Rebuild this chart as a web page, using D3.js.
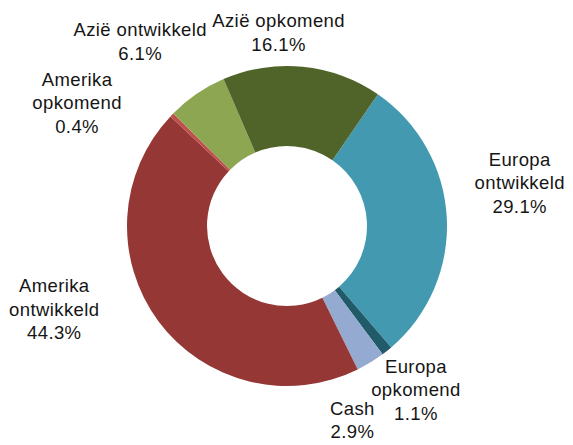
<!DOCTYPE html>
<html>
<head>
<meta charset="utf-8">
<script src="https://cdn.jsdelivr.net/npm/d3@7"></script>
<style>
  html, body { margin: 0; padding: 0; background: #fff; }
  svg { display: block; }
  .lbl { font-family: "Liberation Sans", Arial, sans-serif; font-size: 18.5px; letter-spacing: 0.4px; fill: #151515; }
</style>
</head>
<body>
<div id="chart"></div>
<script>
// data, in the order the slices run clockwise
const regions = ['Europa ontwikkeld', 'Europa opkomend', 'Cash', 'Amerika ontwikkeld', 'Amerika opkomend', 'Azië ontwikkeld', 'Azië opkomend'];
const shares = [29.1, 1.1, 2.9, 44.3, 0.4, 6.1, 16.1];
const labelLines = [
    ['Europa', 'ontwikkeld'],
    ['Europa', 'opkomend'],
    ['Cash'],
    ['Amerika', 'ontwikkeld'],
    ['Amerika', 'opkomend'],
    ['Azië ontwikkeld'],
    ['Azië opkomend']
];
const colors = ['#4399B0', '#215A69', '#95AAD0', '#953735', '#C0504D', '#8CA651', '#506329'];

const W = 573, H = 445;
const CX = 287, CY = 226, R_OUT = 160, R_IN = 80, R_LABEL = 200;
const START = 34.6 * Math.PI / 180;
const LINE_H = 23.5;

// label nudges away from the arc centroid (Excel moved these by hand)
const nudge = [[33, -32], [4, 8], [-39, 24], [-72, -35], [-66, 16], [-34, -19], [-28, 6]];

const svg = d3.select('#chart').append('svg')
    .attr('width', W).attr('height', H);

const g = svg.append('g').attr('transform', `translate(${CX},${CY})`);

const pie = d3.pie().value(d => d.v).sort(null)
    .startAngle(START).endAngle(START + 2 * Math.PI);
const arc = d3.arc().innerRadius(R_IN).outerRadius(R_OUT);
const labelArc = d3.arc().innerRadius(R_LABEL).outerRadius(R_LABEL);

const rows = regions.map((name, i) => ({ name, v: shares[i], i }));
const arcs = pie(rows);

g.selectAll('path.slice')
    .data(arcs)
    .join('path')
    .attr('class', 'slice')
    .attr('d', arc)
    .attr('fill', d => colors[d.data.i]);

const fmt = d3.format('.1f');

g.selectAll('text.lbl')
    .data(arcs)
    .join('text')
    .attr('class', 'lbl')
    .attr('text-anchor', 'middle')
    .each(function (d) {
        const [x0, y0] = labelArc.centroid(d);
        const [nx, ny] = nudge[d.data.i];
        const x = x0 + nx, y = y0 + ny;
        const lines = labelLines[d.data.i].concat([fmt(d.data.v) + '%']);
        const first = y - (lines.length - 1) * LINE_H / 2 + 6;
        d3.select(this).selectAll('tspan')
            .data(lines)
            .join('tspan')
            .attr('x', x)
            .attr('y', (t, k) => first + k * LINE_H)
            .text(t => t);
    });
</script>
</body>
</html>
